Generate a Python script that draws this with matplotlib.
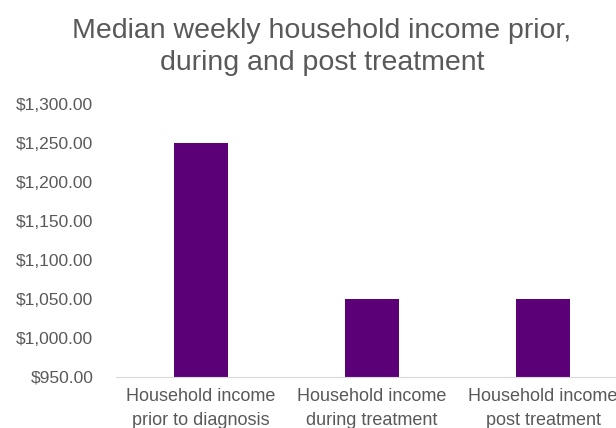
import matplotlib.pyplot as plt

# Daten
categories = ['Household income\nprior to diagnosis',
              'Household income\nduring treatment',
              'Household income\npost treatment']
income = [1250, 1050, 1050]
yticks = [950, 1000, 1050, 1100, 1150, 1200, 1250, 1300]

plt.rcParams['font.family'] = ['Liberation Sans', 'DejaVu Sans']
text_col = '#595959'

fig = plt.figure(figsize=(6.16, 4.28), dpi=100)
# axes run past the right edge, like the cropped original
ax = fig.add_axes([115.5 / 616, 51 / 428, 513 / 616, 273 / 428])

ax.bar(range(len(categories)), income, width=0.31, color='#5c0078', bottom=0)
ax.set_xlim(-0.5, 2.5)
ax.set_ylim(950, 1300)
ax.set_yticks(yticks)
ax.set_yticklabels(['${:,.2f}'.format(v) for v in yticks])
ax.set_xticks(range(len(categories)))
ax.set_xticklabels(categories, linespacing=1.5)

for s in ['top', 'right', 'left']:
    ax.spines[s].set_visible(False)
ax.spines['bottom'].set_color('#d9d9d9')
ax.tick_params(axis='y', length=0, pad=16, labelsize=12.5, labelcolor=text_col)
ax.tick_params(axis='x', length=0, pad=8, labelsize=13, labelcolor=text_col)

fig.text(322 / 616, 1 - 47 / 428, 'Median weekly household income prior,\nduring and post treatment',
         ha='center', va='center', fontsize=20.5, color=text_col, linespacing=1.3)

fig.savefig('out.png', dpi=100)
